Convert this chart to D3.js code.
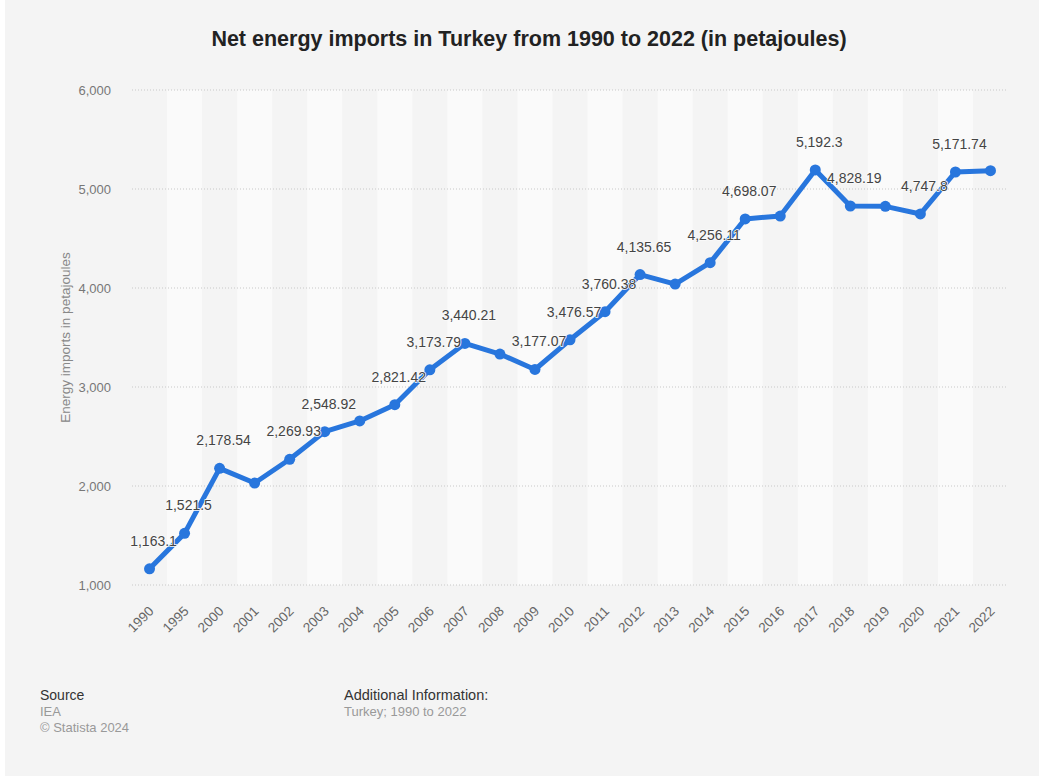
<!DOCTYPE html>
<html>
<head>
<meta charset="utf-8">
<script src="https://cdn.jsdelivr.net/npm/d3@7"></script>
<style>
  body { margin: 0; background: #fff; }
  svg { display: block; margin-left: 5px; font-family: "Liberation Sans", Arial, sans-serif; }
</style>
</head>
<body>
<svg id="chart"></svg>
<script>
// data
const years = ['1990', '1995', '2000', '2001', '2002', '2003', '2004', '2005', '2006', '2007', '2008', '2009',
  '2010', '2011', '2012', '2013', '2014', '2015', '2016', '2017', '2018', '2019', '2020', '2021', '2022'];
const imports = [1163.1, 1521.5, 2178.54, 2030, 2269.93, 2548.92, 2657, 2821.42, 3173.79, 3440.21, 3333, 3177.07,
  3476.57, 3760.38, 4135.65, 4040, 4256.11, 4698.07, 4727, 5192.3, 4828.19, 4825, 4747.8, 5171.74, 5185];
// years whose value label is visible in the reference (others overlap and are hidden)
const labelledYears = ['1990', '1995', '2000', '2002', '2003', '2005', '2006', '2007', '2009', '2010', '2011',
  '2012', '2014', '2015', '2017', '2018', '2020', '2021'];
const yTicks = [1000, 2000, 3000, 4000, 5000, 6000];

const W = 1034, H = 776;
const margin = {top: 90, right: 31, bottom: 191, left: 127};
const width = W - margin.left - margin.right;
const height = H - margin.top - margin.bottom;

const svg = d3.select('#chart')
  .attr('width', W)
  .attr('height', H);

svg.append('rect').attr('width', W).attr('height', H).attr('fill', '#f4f4f4');

svg.append('text')
  .attr('x', 524)
  .attr('y', 46)
  .attr('text-anchor', 'middle')
  .style('font-size', '21.5px')
  .style('font-weight', 'bold')
  .style('fill', '#222')
  .text('Net energy imports in Turkey from 1990 to 2022 (in petajoules)');

const g = svg.append('g')
  .attr('transform', `translate(${margin.left}, ${margin.top})`);

const xScale = d3.scaleBand().domain(years).range([0, width]);
const yScale = d3.scaleLinear().domain([1000, 6000]).range([height, 0]);

// alternating column bands
g.selectAll('.band')
  .data(years.filter((d, i) => i % 2 === 1))
  .join('rect')
  .attr('class', 'band')
  .attr('x', d => xScale(d))
  .attr('y', 0)
  .attr('width', xScale.bandwidth())
  .attr('height', height)
  .attr('fill', '#fafafa');

// y grid + labels
g.selectAll('.grid')
  .data(yTicks)
  .join('line')
  .attr('class', 'grid')
  .attr('x1', 0)
  .attr('x2', width)
  .attr('y1', d => yScale(d))
  .attr('y2', d => yScale(d))
  .attr('stroke', '#c8c8c8')
  .attr('stroke-width', 1)
  .attr('stroke-dasharray', '1,2');

const yAxis = g.append('g')
  .call(d3.axisLeft(yScale).tickValues(yTicks).tickSize(0).tickPadding(21).tickFormat(d3.format(',')));
yAxis.select('.domain').remove();
yAxis.selectAll('text')
  .style('font-size', '13px')
  .style('font-family', '"Liberation Sans", Arial, sans-serif')
  .style('fill', '#777');

svg.append('text')
  .attr('transform', `translate(65, ${margin.top + height / 2}) rotate(-90)`)
  .attr('text-anchor', 'middle')
  .style('font-size', '13.5px')
  .style('fill', '#888')
  .text('Energy imports in petajoules');

// x axis
const xAxis = g.append('g')
  .attr('transform', `translate(0, ${height})`)
  .call(d3.axisBottom(xScale).tickSize(0).tickPadding(0));
xAxis.select('.domain').remove();
xAxis.selectAll('text')
  .attr('text-anchor', 'end')
  .attr('dy', 0)
  .attr('transform', 'translate(5, 27) rotate(-45)')
  .style('font-size', '13.5px')
  .style('font-family', '"Liberation Sans", Arial, sans-serif')
  .style('fill', '#666');

const cx = d => xScale(d) + xScale.bandwidth() / 2;

const line = d3.line()
  .x((d, i) => cx(years[i]))
  .y(d => yScale(d));

g.append('path')
  .datum(imports)
  .attr('d', line)
  .attr('fill', 'none')
  .attr('stroke', '#2876dd')
  .attr('stroke-width', 5)
  .attr('stroke-linejoin', 'round');

g.selectAll('.dot')
  .data(imports)
  .join('circle')
  .attr('class', 'dot')
  .attr('cx', (d, i) => cx(years[i]))
  .attr('cy', d => yScale(d))
  .attr('r', 5.5)
  .attr('fill', '#2876dd');

const fmt = d3.format(',');
g.selectAll('.lbl')
  .data(imports.map((v, i) => ({year: years[i], v})).filter(d => labelledYears.includes(d.year)))
  .join('text')
  .attr('class', 'lbl')
  .attr('x', d => cx(d.year) + 4)
  .attr('y', d => yScale(d.v) - 23)
  .attr('text-anchor', 'middle')
  .style('font-size', '14px')
  .style('fill', '#444')
  .style('stroke', '#fafafa')
  .style('stroke-width', 1.5)
  .style('paint-order', 'stroke')
  .text(d => fmt(d.v));

// footer
const foot = svg.append('g').style('font-size', '13px');
foot.append('text').attr('x', 35).attr('y', 700).style('font-size', '14px').style('fill', '#333').text('Source');
foot.append('text').attr('x', 35).attr('y', 716).style('fill', '#999').text('IEA');
foot.append('text').attr('x', 35).attr('y', 732).style('fill', '#999').text('© Statista 2024');
foot.append('text').attr('x', 339).attr('y', 700).style('font-size', '14.5px').style('fill', '#333').text('Additional Information:');
foot.append('text').attr('x', 339).attr('y', 716).style('fill', '#999').text('Turkey; 1990 to 2022');
</script>
</body>
</html>
